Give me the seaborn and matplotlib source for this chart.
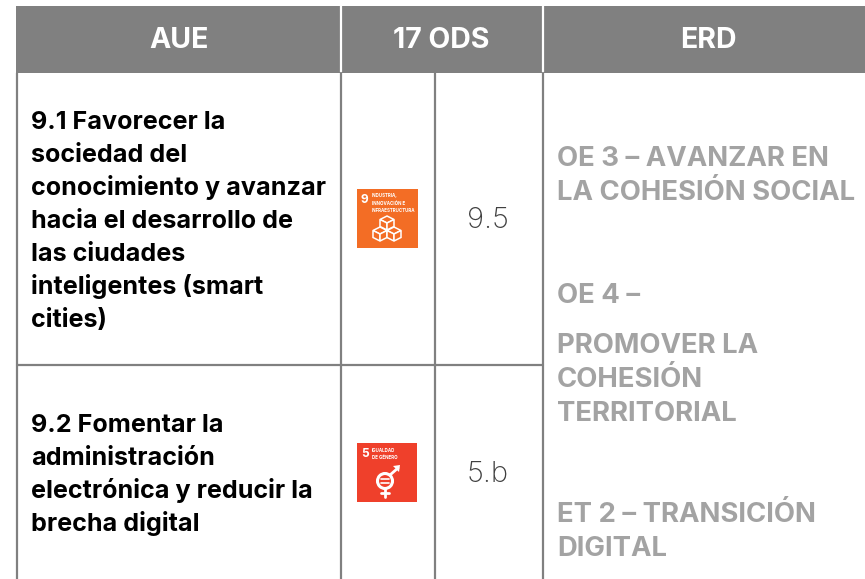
import matplotlib
matplotlib.use("Agg")
import matplotlib.pyplot as plt
from matplotlib.patches import Rectangle, Polygon, Circle
import seaborn as sns

GREY = "#808080"
LIGHT = "#a3a3a3"

headers = ["AUE", "17 ODS", "ERD"]
aue_lines = [["9.1 Favorecer la", "sociedad del", "conocimiento y avanzar", "hacia el desarrollo de",
              "las ciudades", "inteligentes (smart", "cities)"],
             ["9.2 Fomentar la", "administración", "electrónica y reducir la", "brecha digital"]]
targets = ["9.5", "5.b"]
erd_lines = ["OE 3 – AVANZAR EN", "LA COHESIÓN SOCIAL", "OE 4 –", "PROMOVER LA", "COHESIÓN",
             "TERRITORIAL", "ET 2 – TRANSICIÓN", "DIGITAL"]
icon_titles = [["INDUSTRIA,", "INNOVACIÓN E", "INFRAESTRUCTURA"], ["IGUALDAD", "DE GÉNERO"]]
icon_numbers = ["9", "5"]
icon_colors = ["#f36d25", "#ef402b"]

sns.set_theme(style="white")
plt.rcParams["font.family"] = ["Inter", "DejaVu Sans"]

fig = plt.figure(figsize=(8.65, 5.79), dpi=100)
ax = fig.add_axes([0, 0, 1, 1])
ax.set_xlim(0, 865)
ax.set_ylim(579, 0)
ax.axis("off")

# header band
ax.add_patch(Rectangle((16, 6), 527, 67, color=GREY, lw=0))
ax.add_patch(Rectangle((543, 6), 322, 67, color=GREY, lw=0))
for x in [341, 543]:
    ax.plot([x, x], [6, 72], color="white", lw=1.6)
for x, h in zip([179, 441, 708], headers):
    ax.text(x, 41, h, color="white", fontsize=20.5, fontweight="bold", ha="center", va="center")

# body grid
for x in [17, 341, 435, 543]:
    ax.plot([x, x], [73, 579], color=GREY, lw=1.6)
ax.plot([17, 543], [365, 365], color=GREY, lw=1.6)

# left column
for lines, y0 in zip(aue_lines, [129, 432]):
    for i, line in enumerate(lines):
        ax.text(31, y0 + i * 33, line, color="black", fontsize=18.1, fontweight="bold", va="baseline")

# targets
for y, t in zip([220, 475], targets):
    ax.text(488, y, t, color="#404040", fontsize=21, fontweight="light", ha="center", va="center")

# right column
erd_y = [166, 200, 303, 353, 387, 421, 522, 556]
for y, line in zip(erd_y, erd_lines):
    ax.text(557, y, line, color=LIGHT, fontsize=19.8, fontweight="bold", va="baseline")

# icon squares
for (x, y, w, h), c, num, title in zip([(357, 189, 61, 59), (357, 443, 60, 59)], icon_colors,
                                       icon_numbers, icon_titles):
    ax.add_patch(Rectangle((x, y), w, h, color=c, lw=0))
    ax.text(x + 7.5, y + 11, num, color="white", fontsize=8.5, fontweight="bold", ha="center", va="center")
    for i, t in enumerate(title):
        ax.text(x + 15, y + 7 + i * 7.5, t, color="white", fontsize=3.2, fontweight="bold", va="center")

# cubes glyph
def cube(cx, cy, s=7):
    top = [(cx, cy - s), (cx + s, cy - s / 2), (cx, cy), (cx - s, cy - s / 2)]
    left = [(cx - s, cy - s / 2), (cx, cy), (cx, cy + s), (cx - s, cy + s / 2)]
    right = [(cx + s, cy - s / 2), (cx, cy), (cx, cy + s), (cx + s, cy + s / 2)]
    for pts in [top, left, right]:
        ax.add_patch(Polygon(pts, closed=True, fc="#f36d25", ec="white", lw=1.1))

cube(387, 223)
cube(380, 234)
cube(394, 234)

# gender glyph
ax.add_patch(Circle((385, 481), 7.5, fc="none", ec="white", lw=2.2))
ax.plot([381, 389], [479, 479], color="white", lw=1.2)
ax.plot([381, 389], [483, 483], color="white", lw=1.2)
ax.plot([385, 385], [488, 497], color="white", lw=2)
ax.plot([381, 389], [493, 493], color="white", lw=2)
ax.plot([390, 398], [475, 468], color="white", lw=2)
ax.add_patch(Polygon([(393, 466), (400, 465), (399, 472)], closed=True, fc="white", ec="none"))

fig.savefig("out.png", dpi=100)
